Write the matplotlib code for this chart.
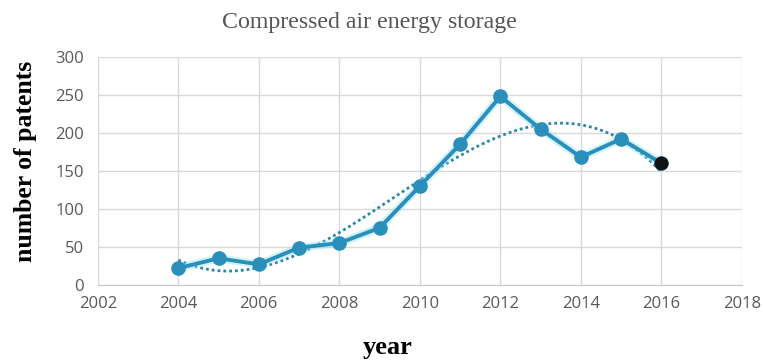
import numpy as np
import matplotlib.pyplot as plt

years = [2004, 2005, 2006, 2007, 2008, 2009, 2010, 2011, 2012, 2013, 2014, 2015, 2016]
patents = [22, 35, 27, 49, 55, 75, 130, 185, 248, 205, 168, 192, 160]
x_ticks = [2002, 2004, 2006, 2008, 2010, 2012, 2014, 2016, 2018]
y_ticks = [0, 50, 100, 150, 200, 250, 300]

line_color = "#2a8fba"

fig = plt.figure(figsize=(7.64, 3.62), dpi=100)
ax = fig.add_axes([0.128, 0.213, 0.843, 0.630])

ax.set_xlim(2002, 2018)
ax.set_ylim(0, 300)
ax.set_xticks(x_ticks)
ax.set_yticks(y_ticks)
ax.grid(True, color="#d9d9d9", linewidth=1.0)
ax.set_axisbelow(True)
for side in ["top", "right", "left"]:
    ax.spines[side].set_visible(False)
ax.spines["bottom"].set_color("#c8c8c8")
ax.tick_params(length=0, labelsize=12, labelcolor="#595959", pad=8)
ax.tick_params(axis="y", pad=10)
for lab in ax.get_xticklabels() + ax.get_yticklabels():
    lab.set_family("Open Sans")

# cubic polynomial trend line
coef = np.polyfit(years, patents, 3)
xs = np.linspace(years[0], years[-1], 200)
ax.plot(xs, np.polyval(coef, xs), linestyle=(0, (1, 1.1)), color="#2a86a8",
        linewidth=2.0, zorder=3)

# soft halo under the series
ax.plot(years, patents, color="#9be6f7", linewidth=6, alpha=0.45,
        solid_capstyle="round", zorder=3.5)
ax.plot(years, patents, color=line_color, linewidth=2.8, marker="o",
        markersize=9.5, markerfacecolor=line_color, markeredgecolor=line_color,
        markeredgewidth=1.0, zorder=4)
ax.plot(years[-1], patents[-1], marker="o", markersize=9, color="#111111", zorder=5)

fig.text(0.484, 0.938, "Compressed air energy storage", ha="center", va="center",
         family="Liberation Serif", fontsize=17.2, color="#555555")
fig.text(0.033, 0.553, "number of patents", ha="center", va="center", rotation=90,
         family="Liberation Serif", fontsize=18.5, fontweight="bold", color="black")
fig.text(0.507, 0.04, "year", ha="center", va="center", family="Liberation Serif",
         fontsize=19, fontweight="bold", color="black")

fig.savefig("out.png", dpi=100)
